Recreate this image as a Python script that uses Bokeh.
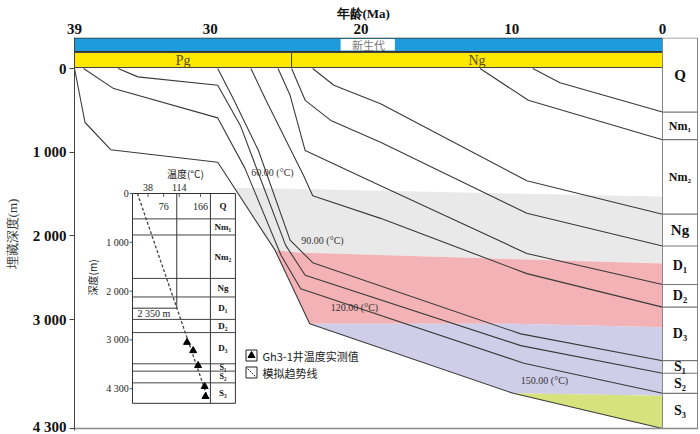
import numpy as np
from bokeh.plotting import figure
from bokeh.models import Range1d, FixedTicker
from bokeh.core.properties import value
from bokeh.embed import file_html
from bokeh.resources import INLINE

# ---------------- data ----------------
age_ticks = [39, 30, 20, 10, 0]
depth_ticks = [0, 1000, 2000, 3000, 4300]
depth_tick_labels = ["0", "1 000", "2 000", "3 000", "4 300"]

era_name = ["新生代"]
era_start = [39]
era_end = [0]
period_name = ["Pg", "Ng"]
period_start = [39, 24.6]
period_end = [24.6, 0]

layer_names = ["Q", "Nm₁", "Nm₂", "Ng", "D₁", "D₂", "D₃", "S₁", "S₂", "S₃"]
layer_base = [520, 850, 1740, 2120, 2580, 2850, 3490, 3640, 3880, 4300]

# burial curves (base of each layer): age (Ma) and depth (m)
q_age = [8.6, 6.8, 0]
q_depth = [0, 170, 520]
nm1_age = [12.1, 8.9, 0]
nm1_depth = [0, 380, 850]
nm2_age = [23.2, 21.8, 18.7, 9.0, 0]
nm2_depth = [0, 200, 420, 1340, 1740]
ng_age = [24.6, 23.7, 22.0, 18.7, 9.0, 0]
ng_depth = [0, 380, 620, 880, 1730, 2120]
d1_age = [25.5, 24.7, 23.7, 18.7, 9.0, 0]
d1_depth = [0, 320, 980, 1400, 2210, 2580]
d2_age = [27.3, 26.3, 23.8, 23.2, 18.7, 9.0, 0]
d2_depth = [0, 380, 1280, 1520, 1790, 2450, 2850]
d3_age = [29.5, 28.5, 26.8, 24.7, 23.2, 9.4, 0]
d3_depth = [0, 350, 980, 2050, 2320, 3170, 3490]
s1_age = [36.1, 34.8, 29.5, 28.0, 25.0, 23.7, 9.4, 0]
s1_depth = [0, 100, 200, 680, 2110, 2470, 3310, 3640]
s2_age = [38.4, 36.4, 29.5, 27.7, 25.3, 24.0, 9.2, 0]
s2_depth = [0, 240, 590, 1190, 2230, 2630, 3520, 3880]
s3_age = [39, 38.3, 36.6, 29.5, 25.7, 23.4, 9.9, 0]
s3_depth = [0, 645, 970, 1120, 2170, 3050, 3880, 4300]

# isotherms
iso60_age = [28.4, 24.0, 0]
iso60_depth = [1420, 1440, 1530]
iso90_age = [25.7, 24.0, 22.0, 0]
iso90_depth = [2170, 2200, 2210, 2330]
iso120_age = [23.4, 9.9, 0]
iso120_depth = [3050, 3050, 3090]
iso150_age = [9.9, 0]
iso150_depth = [3880, 3910]
iso_labels = ["60.00 (°C)", "90.00 (°C)", "120.00 (°C)", "150.00 (°C)"]

# inset: temperature vs depth in well Gh3-1
inset_temp_ticks = [38, 76, 114, 166]
inset_depth_ticks = [0, 1000, 2000, 3000, 4000]
inset_depth_labels = ["0", "1 000", "2 000", "3 000", "4 300"]
well_depth = 2350
well_temp = 108
trend_temp = [12, 184]
trend_depth = [0, 4200]
meas_temp = [133, 148, 160, 176, 178]
meas_depth = [3050, 3220, 3525, 3955, 4160]
legend_labels = ["Gh3-1井温度实测值", "模拟趋势线"]

# ---------------- layout (window pixels) ----------------
W, H = 700, 434
FL, FR, FT, FB = 74, 698, 37, 430
AGE_X0 = 74
PX_PER_MA = (662 - 74) / 39.0
DEP_Y0 = 68
PX_PER_M = (428 - 68) / 4300.0
INS_X0, INS_PX_PER_C = 132, 0.41
INS_Y0, INS_PX_PER_M = 193, 0.0488


def age_at(px):
    return 39 - (px - AGE_X0) / PX_PER_MA


def dep_at(py):
    return (py - DEP_Y0) / PX_PER_M


SERIF = value("Liberation Serif")
CJK = value("Noto Sans CJK SC")
LINE = "#3a3a3a"

p = figure(width=W, height=H, title="年龄(Ma)", output_backend="svg", toolbar_location=None,
           x_range=Range1d(age_at(FL), age_at(FR)),
           y_range=Range1d(dep_at(FB), dep_at(FT)),
           x_axis_location="above", y_axis_location="left",
           min_border_left=FL, min_border_right=W - FR,
           min_border_top=FT, min_border_bottom=H - FB)
p.outline_line_color = None
p.xgrid.visible = False
p.ygrid.visible = False
p.background_fill_color = "white"
p.border_fill_color = "white"

p.title.text_font = "Liberation Serif"
p.title.text_font_size = "13px"
p.title.text_font_style = "bold"
p.title.text_color = "#111"
p.title.align = "left"
p.title.offset = 262
p.title.standoff = 0

xa = p.xaxis[0]
xa.ticker = FixedTicker(ticks=age_ticks)
xa.axis_line_color = None
xa.major_tick_line_color = None
xa.minor_tick_line_color = None
xa.major_tick_out = 0
xa.major_tick_in = 0
xa.major_label_standoff = 4
xa.major_label_text_font = "Liberation Serif"
xa.major_label_text_font_style = "bold"
xa.major_label_text_font_size = "15px"
xa.major_label_text_color = "#111"

ya = p.yaxis[0]
ya.ticker = FixedTicker(ticks=depth_ticks)
ya.major_label_overrides = {t: l for t, l in zip(depth_ticks, depth_tick_labels)}
ya.axis_label = "埋藏深度(m)"
ya.axis_label_text_font = "Liberation Serif"
ya.axis_label_text_font_size = "13px"
ya.axis_label_text_font_style = "normal"
ya.axis_label_text_color = "#333"
ya.axis_label_standoff = 10
ya.major_label_text_font = "Liberation Serif"
ya.major_label_text_font_style = "bold"
ya.major_label_text_font_size = "15px"
ya.major_label_text_color = "#111"
ya.major_label_standoff = 3
ya.major_tick_out = 5
ya.major_tick_in = 0
ya.minor_tick_line_color = None
ya.axis_line_color = "#444"
ya.major_tick_line_color = "#444"

# ---------------- temperature zones ----------------
s3a = np.array(s3_age, float)
s3d = np.array(s3_depth, float)


def on_base(a):
    return float(np.interp(a, s3a[::-1], s3d[::-1]))


def zone(top_a, top_d, bot_a, bot_d):
    top_d = list(top_d)
    top_d[0] = on_base(top_a[0])
    xs = list(top_a) + list(bot_a[::-1])
    ys = top_d + list(bot_d[::-1])
    lo, hi = bot_a[0], top_a[0]
    mids = sorted((a, d) for a, d in zip(s3_age, s3_depth) if lo < a < hi)
    xs += [a for a, d in mids]
    ys += [d for a, d in mids]
    return xs, ys


green_a = [a for a in s3_age if a <= iso150_age[0]]
green_d = [d for a, d in zip(s3_age, s3_depth) if a <= iso150_age[0]]
zones = [
    (zone(iso60_age, iso60_depth, iso90_age, iso90_depth), "#E9E9E9"),
    (zone(iso90_age, iso90_depth, iso120_age, iso120_depth), "#F3B2B5"),
    (zone(iso120_age, iso120_depth, iso150_age, iso150_depth), "#CFCDE8"),
    (zone(iso150_age, iso150_depth, green_a, green_d), "#D6E27C"),
]
for (xs, ys), col in zones:
    p.patch(xs, ys, fill_color=col, line_color=None)

# ---------------- burial curves ----------------
curves = [(q_age, q_depth), (nm1_age, nm1_depth), (nm2_age, nm2_depth), (ng_age, ng_depth),
          (d1_age, d1_depth), (d2_age, d2_depth), (d3_age, d3_depth), (s1_age, s1_depth),
          (s2_age, s2_depth), (s3_age, s3_depth)]
for a, d in curves:
    p.line(a, d, line_color=LINE, line_width=1.1)

# isotherm labels
iso_pos = [(age_at(272), dep_at(172)), (age_at(322), dep_at(240)),
           (age_at(354), dep_at(307)), (age_at(544), dep_at(380))]
p.text(x=[q[0] for q in iso_pos], y=[q[1] for q in iso_pos], text=iso_labels,
       text_font=SERIF, text_font_size="10px", text_color="#333",
       text_align="center", text_baseline="middle")

# ---------------- top bars ----------------
p.quad(left=era_start, right=era_end, top=[dep_at(37.5)], bottom=[dep_at(51)],
       fill_color="#1E9BDB", line_color="#333", line_width=1)
era_mid = [(s + e) / 2 for s, e in zip(era_start, era_end)]
p.quad(left=[m + 1.85 for m in era_mid], right=[m - 1.75 for m in era_mid],
       top=[dep_at(38.5)], bottom=[dep_at(50)], fill_color="white", line_color=None)
p.text(x=era_mid, y=[dep_at(44.5)], text=era_name, text_font=CJK, text_font_size="11px",
       text_color="#777", text_align="center", text_baseline="middle")

p.quad(left=period_start, right=period_end, top=[dep_at(52)] * 2, bottom=[dep_at(67)] * 2,
       fill_color="#FFE800", line_color="#444", line_width=1)
period_mid = [(s + e) / 2 for s, e in zip(period_start, period_end)]
p.text(x=period_mid, y=[dep_at(59.5)] * 2, text=period_name, text_font=SERIF,
       text_font_size="14px", text_color="#5a4a00", text_align="center", text_baseline="middle")

# ---------------- right strata column ----------------
col_l, col_r = 0, age_at(697)
col_top = dep_at(37.5)
p.quad(left=[col_l], right=[col_r], top=[col_top], bottom=[layer_base[-1]],
       fill_color="white", line_color="#888", line_width=1)
p.segment(x0=[col_l] * (len(layer_base) - 1), y0=layer_base[:-1],
          x1=[col_r] * (len(layer_base) - 1), y1=layer_base[:-1], line_color="#777", line_width=1.2)
tops = [col_top] + layer_base[:-1]
mids = [(t + b) / 2 for t, b in zip(tops, layer_base)]
sizes = {"Q": "15px", "Nm₁": "12px", "Nm₂": "12px", "Ng": "15px"}
for name, m in zip(layer_names, mids):
    p.text(x=[(col_l + col_r) / 2], y=[m], text=[name], text_font=SERIF,
           text_font_style="bold", text_font_size=sizes.get(name, "14px"), text_color="#111",
           text_align="center", text_baseline="middle")

# bottom line
p.segment(x0=[age_at(FL)], y0=[layer_base[-1]], x1=[age_at(FR)], y1=[layer_base[-1]],
          line_color="#8a8a8a", line_width=1.5)

# ---------------- inset ----------------
p.extra_x_ranges = {"temp": Range1d((FL - INS_X0) / INS_PX_PER_C, (FR - INS_X0) / INS_PX_PER_C)}
p.extra_y_ranges = {"idep": Range1d((FB - INS_Y0) / INS_PX_PER_M, (FT - INS_Y0) / INS_PX_PER_M)}
R = dict(x_range_name="temp", y_range_name="idep")

ins_right = 251
ins_col = 190
p.quad(left=[0], right=[ins_right], top=[0], bottom=[layer_base[-1]],
       fill_color="white", line_color="#333", line_width=1, **R)
p.segment(x0=[ins_col], y0=[0], x1=[ins_col], y1=[layer_base[-1]], line_color="#333", **R)
nb = len(layer_base) - 1
p.segment(x0=[0] * nb, y0=layer_base[:-1], x1=[ins_right] * nb, y1=layer_base[:-1],
          line_color="#444", line_width=1, **R)
p.segment(x0=[well_temp, 0], y0=[0, well_depth], x1=[well_temp, well_temp],
          y1=[well_depth, well_depth], line_color="#333", line_width=1, **R)
p.text(x=[12], y=[well_depth + 110], text=[f"{well_depth:,}".replace(",", " ") + " m"],
       text_font=SERIF, text_font_size="10px", text_color="#222",
       text_align="left", text_baseline="middle", **R)

# inset ticks and labels
p.segment(x0=inset_temp_ticks, y0=[0] * 4, x1=inset_temp_ticks, y1=[70] * 4, line_color="#555", **R)
above = [t for i, t in enumerate(inset_temp_ticks) if i % 2 == 0]
below = [t for i, t in enumerate(inset_temp_ticks) if i % 2 == 1]
p.text(x=above, y=[-125] * len(above), text=[str(t) for t in above], text_font=SERIF,
       text_font_size="10px", text_color="#222", text_align="center", text_baseline="middle", **R)
p.text(x=below, y=[265] * len(below), text=[str(t) for t in below], text_font=SERIF,
       text_font_size="10px", text_color="#222", text_align="center", text_baseline="middle", **R)
p.segment(x0=[-7] * 5, y0=inset_depth_ticks, x1=[0] * 5, y1=inset_depth_ticks, line_color="#555", **R)
p.text(x=[-9] * 5, y=inset_depth_ticks, text=inset_depth_labels, text_font=SERIF,
       text_font_size="10px", text_color="#222", text_align="right", text_baseline="middle", **R)
p.text(x=[129], y=[-410], text=["温度(°C)"], text_font=CJK, text_font_size="10px",
       text_color="#222", text_align="center", text_baseline="middle", **R)
p.text(x=[-98], y=[1720], text=["深度(m)"], text_font=CJK, text_font_size="10px",
       text_color="#222", text_align="center", text_baseline="middle", angle=np.pi / 2, **R)

ins_sizes = {"S₁": "8px", "S₂": "8px"}
ins_tops = [0] + layer_base[:-1]
ins_mids = [(t + b) / 2 for t, b in zip(ins_tops, layer_base)]
for name, m in zip(layer_names, ins_mids):
    p.text(x=[(ins_col + ins_right) / 2], y=[m], text=[name], text_font=SERIF,
           text_font_style="bold", text_font_size=ins_sizes.get(name, "9px"), text_color="#111",
           text_align="center", text_baseline="middle", **R)

p.line(trend_temp, trend_depth, line_color="#444", line_width=1.3, line_dash="3 2", **R)
p.scatter(meas_temp, meas_depth, marker="triangle", size=7, fill_color="black",
          line_color="black", **R)

# legend
lx = age_at(251)
ly = [dep_at(355), dep_at(372)]
p.rect(x=[lx, lx], y=ly, width=11, height=11, width_units="screen", height_units="screen",
       fill_color="white", line_color="#222", line_width=1)
p.scatter([lx], [ly[0]], marker="triangle", size=7, fill_color="black", line_color="black")
p.segment(x0=[age_at(247)], y0=[dep_at(368)], x1=[age_at(255)], y1=[dep_at(376)],
          line_color="#333", line_dash="2 1", line_width=1)
p.text(x=[age_at(262)] * 2, y=ly, text=legend_labels, text_font=CJK, text_font_size="11px",
       text_color="#222", text_align="left", text_baseline="middle")

open("out.html", "w").write(file_html(p, INLINE))
